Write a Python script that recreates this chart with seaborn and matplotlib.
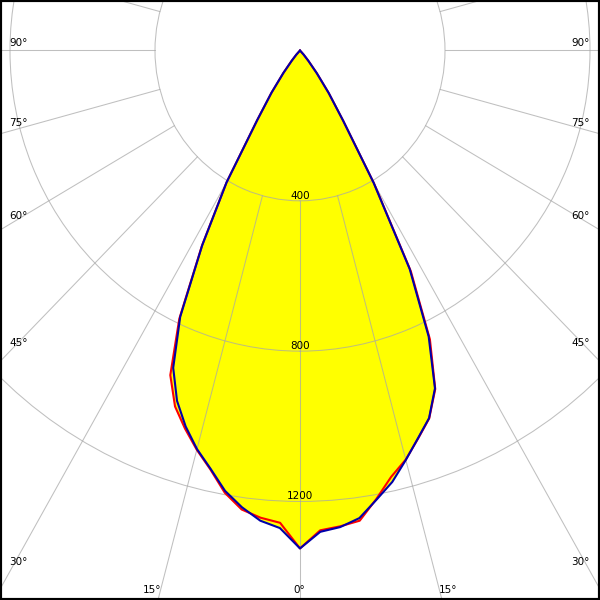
import numpy as np
import pandas as pd
import matplotlib
matplotlib.use("Agg")
import matplotlib.pyplot as plt
import seaborn as sns

sns.set_theme(style="white")
plt.rcParams['font.family'] = ['DejaVu Sans']

# ---- data: luminous intensity (cd) vs gamma angle ----
gamma = [0, 2.5, 5, 7.5, 10, 12.5, 15, 17.5, 20, 22.5, 25, 27.5, 30, 32.5,
         35, 37.5, 40, 42.5, 45, 50, 55, 60, 65, 70, 75, 80, 85, 90]
c0 = [1325, 1278, 1271, 1262, 1212, 1162, 1127, 1083, 1042, 975, 848, 662, 408, 222,
      138, 76, 36, 15, 0, 0, 0, 0, 0, 0, 0, 0, 0, 0]
c180 = [1325, 1258, 1248, 1232, 1195, 1142, 1100, 1055, 1008, 935, 788, 586, 405, 220,
        137, 75, 35, 15, 0, 0, 0, 0, 0, 0, 0, 0, 0, 0]
c90 = [1325, 1282, 1273, 1255, 1214, 1176, 1128, 1082, 1041, 973, 840, 655, 406, 222,
       138, 76, 36, 15, 0, 0, 0, 0, 0, 0, 0, 0, 0, 0]
c270 = [1325, 1272, 1256, 1226, 1190, 1140, 1098, 1049, 992, 914, 782, 584, 405, 220,
        137, 75, 35, 15, 0, 0, 0, 0, 0, 0, 0, 0, 0, 0]

radial_ticks = [400, 800, 1200]
radial_labels = ["400", "800", "1200"]
angle_labels_side = ["90°", "75°", "60°", "45°", "30°"]
angle_labels_bottom = ["15°", "0°", "15°"]

# ---- figure / polar axes (stretched like the reference) ----
W = H = 600
fig = plt.figure(figsize=(6, 6), dpi=100)
fig.patch.set_facecolor("white")

RMAX = 1750
sx, sy = 0.3625, 0.3758        # px per cd horizontally / vertically
cx, cy = 300, 50.5             # pole position in pixels (from top-left)
hw, hh = RMAX * sx, RMAX * sy
ax = fig.add_axes([(cx - hw) / W, (H - cy - hh) / H, 2 * hw / W, 2 * hh / H],
                  projection="polar")
ax.set_aspect("auto")
ax.set_theta_zero_location("S")
ax.set_theta_direction(1)
ax.set_rlim(0, RMAX)
ax.set_facecolor("white")
ax.spines["polar"].set_visible(False)
ax.set_xticks([])
ax.set_yticks(radial_ticks)
ax.set_yticklabels([])
ax.set_axisbelow(False)
gridc = "#a7a7a7"
ax.yaxis.grid(True, color=gridc, lw=0.75, alpha=0.72)

# radial lines from the 400 circle outward
for a in range(0, 360, 15):
    ax.plot([np.deg2rad(a)] * 2, [radial_ticks[0], RMAX], color=gridc,
            lw=0.75, alpha=0.72, zorder=2.5)


def curve(left, right):
    g = np.array(gamma)
    th = np.concatenate([-g[::-1], g])
    r = np.concatenate([np.array(left)[::-1], np.array(right)])
    return pd.DataFrame({"theta": np.deg2rad(th), "r": r,
                         "order": np.arange(len(th))})


red = curve(c180, c0)
blue = curve(c270, c90)

for df in (red, blue):
    ax.fill(df["theta"], df["r"], color="#ffff00", lw=0, zorder=1)

sns.lineplot(data=red, x="theta", y="r", sort=False, estimator=None,
             color="#ff0000", lw=1.5, ax=ax, zorder=3)
sns.lineplot(data=blue, x="theta", y="r", sort=False, estimator=None,
             color="#0000aa", lw=1.5, ax=ax, zorder=3.1)
ax.set_xlabel("")
ax.set_ylabel("")
ax.set_xticks([])
ax.set_rlim(0, RMAX)

for rv, lab in zip(radial_ticks, radial_labels):
    ax.text(0, rv, lab, ha="center", va="bottom", fontsize=7.5,
            color="black", zorder=5)

# ---- angle labels at the frame ----
side_baselines = [46, 126, 219, 346.5, 565]
for lab, yb in zip(angle_labels_side, side_baselines):
    fig.text(9 / W, 1 - yb / H, lab, ha="left", va="baseline",
             fontsize=7.5, color="black")
    fig.text(589.5 / W, 1 - yb / H, lab, ha="right", va="baseline",
             fontsize=7.5, color="black")
for lab, xc in zip(angle_labels_bottom, [151.7, 299.5, 448.3]):
    fig.text(xc / W, 1 - 593 / H, lab, ha="center", va="baseline",
             fontsize=7.5, color="black")

fig.add_artist(plt.Rectangle((0, 0), 1, 1, transform=fig.transFigure,
                             fill=False, edgecolor="black", lw=3,
                             clip_on=False))

fig.savefig("out.png", dpi=100)
